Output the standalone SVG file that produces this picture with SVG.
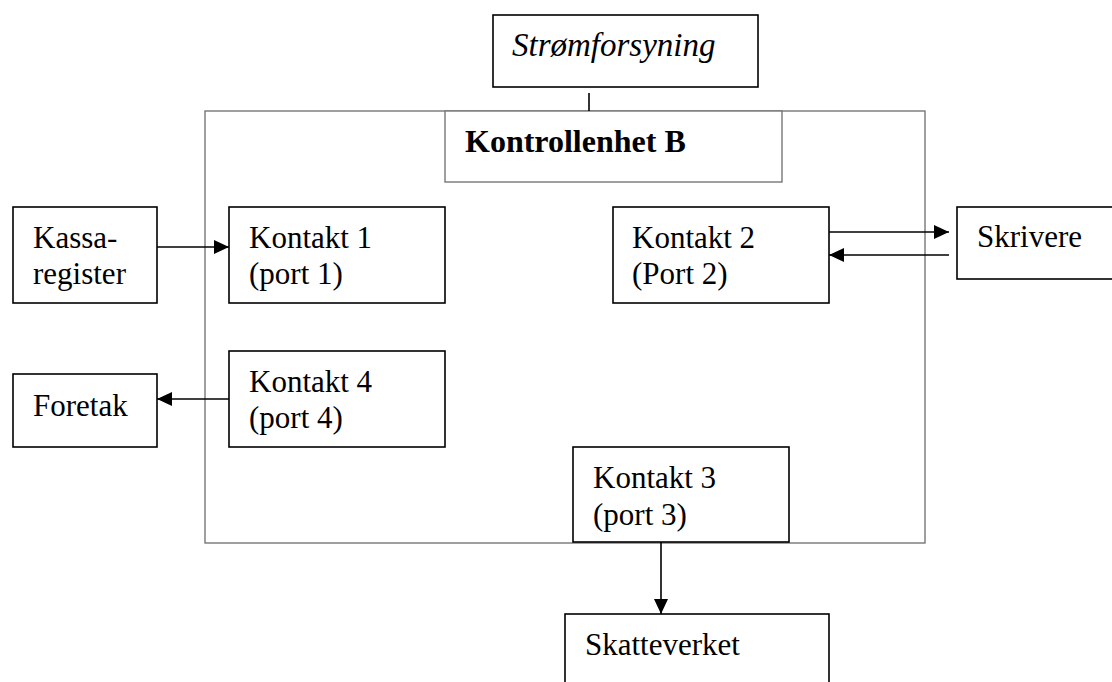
<svg xmlns="http://www.w3.org/2000/svg" width="1112" height="682" viewBox="0 0 1112 682">
<defs>
<style>
.box{fill:#fff;stroke:#000;stroke-width:1.6}
.gbox{fill:none;stroke:#777;stroke-width:1.4}
.gbox2{fill:#fff;stroke:#777;stroke-width:1.4}
.t{font-family:"Liberation Serif","Times New Roman",serif;font-size:31px;fill:#000}
.b{font-weight:bold;font-size:32px}
.i{font-style:italic;font-size:33px}
.c{stroke:#000;stroke-width:1.6;fill:none}
</style>
<marker id="ah" markerWidth="16" markerHeight="14" refX="15" refY="7" orient="auto" markerUnits="userSpaceOnUse">
<path d="M0,0 L15,7 L0,14 Z" fill="#000"/>
</marker>
</defs>
<rect width="1112" height="682" fill="#fff"/>
<g id="kontrollenhet">
<rect class="gbox" x="205" y="111" width="720" height="432"/>
<rect class="gbox2" x="445" y="111" width="337" height="71"/>
<text class="t b" x="465" y="152">Kontrollenhet B</text>
</g>
<g id="connectors">
<line class="c" x1="589" y1="93" x2="589" y2="111"/>
<line class="c" x1="157" y1="247" x2="229" y2="247" marker-end="url(#ah)"/>
<line class="c" x1="229" y1="399" x2="157" y2="399" marker-end="url(#ah)"/>
<line class="c" x1="829" y1="232" x2="949" y2="232" marker-end="url(#ah)"/>
<line class="c" x1="949" y1="255" x2="829" y2="255" marker-end="url(#ah)"/>
<line class="c" x1="661" y1="542" x2="661" y2="614" marker-end="url(#ah)"/>
</g>
<g id="stromforsyning">
<rect class="box" x="493" y="15" width="265" height="72"/>
<text class="t i" x="512" y="56">Strømforsyning</text>
</g>
<g id="kassaregister">
<rect class="box" x="13" y="207" width="144" height="96"/>
<text class="t" x="33" y="248">Kassa-</text>
<text class="t" x="33" y="284">register</text>
</g>
<g id="kontakt1">
<rect class="box" x="229" y="207" width="216" height="96"/>
<text class="t" x="249" y="248">Kontakt 1</text>
<text class="t" x="249" y="284">(port 1)</text>
</g>
<g id="kontakt2">
<rect class="box" x="613" y="207" width="216" height="96"/>
<text class="t" x="632" y="248">Kontakt 2</text>
<text class="t" x="632" y="284">(Port 2)</text>
</g>
<g id="skrivere">
<rect class="box" x="957" y="207" width="160" height="72"/>
<text class="t" x="977" y="247">Skrivere</text>
</g>
<g id="foretak">
<rect class="box" x="13" y="374" width="144" height="73"/>
<text class="t" x="33" y="416">Foretak</text>
</g>
<g id="kontakt4">
<rect class="box" x="229" y="351" width="216" height="96"/>
<text class="t" x="249" y="392">Kontakt 4</text>
<text class="t" x="249" y="428">(port 4)</text>
</g>
<g id="kontakt3">
<rect class="box" x="573" y="447" width="216" height="95"/>
<text class="t" x="593" y="488">Kontakt 3</text>
<text class="t" x="593" y="525">(port 3)</text>
</g>
<g id="skatteverket">
<rect class="box" x="565" y="614" width="264" height="80"/>
<text class="t" x="585" y="655">Skatteverket</text>
</g>
</svg>
